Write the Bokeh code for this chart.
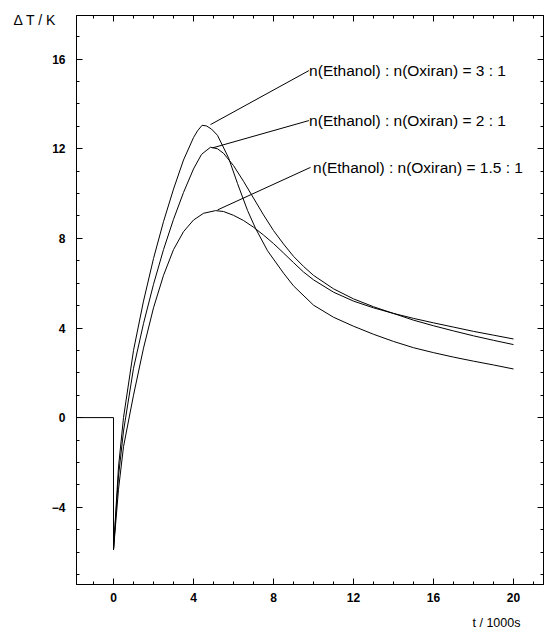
from bokeh.plotting import figure
from bokeh.models import LinearAxis, FixedTicker, Range1d, ColumnDataSource, Title
from bokeh.core.properties import value
from bokeh.embed import file_html
from bokeh.resources import INLINE

# ---- data (t in 1000 s, dT in K) ----
baseline_t = [-1.85, 0.0, 0.0]
baseline_v = [0.0, 0.0, -5.9]

t_31 = [0, 0.25, 0.5, 1.0, 1.5, 2.0, 2.5, 3.0, 3.5, 4.0, 4.2, 4.43, 4.65, 4.9, 5.2, 5.75, 6.2,
        6.7, 7.1, 7.7, 8.5, 9.0, 10, 11, 12, 13, 14, 15, 16, 17, 18, 19, 20]
v_31 = [-5.9, -2.2, 0.0, 3.0, 5.2, 7.1, 8.75, 10.2, 11.5, 12.5, 12.8, 13.05, 13.02, 12.88, 12.6,
        11.6, 10.45, 9.25, 8.45, 7.45, 6.45, 5.88, 5.02, 4.48, 4.08, 3.72, 3.4, 3.12, 2.9, 2.7,
        2.52, 2.35, 2.17]

t_21 = [0, 0.25, 0.5, 1.0, 1.5, 2.0, 2.5, 3.0, 3.5, 4.0, 4.4, 4.85, 5.2, 5.5, 6.0, 6.5, 7.0,
        7.5, 8.0, 8.5, 9.0, 9.5, 10, 11, 12, 13, 14, 15, 16, 17, 18, 19, 20]
v_21 = [-5.9, -2.6, -0.6, 2.2, 4.2, 5.95, 7.5, 8.85, 10.05, 11.1, 11.75, 12.07, 12.0, 11.8,
        11.25, 10.55, 9.8, 9.05, 8.35, 7.75, 7.2, 6.75, 6.35, 5.75, 5.3, 4.95, 4.65, 4.35, 4.1,
        3.87, 3.65, 3.45, 3.26]

t_15 = [0, 0.25, 0.5, 1.0, 1.5, 2.0, 2.5, 3.0, 3.5, 4.0, 4.5, 5.1, 5.5, 6.0, 6.5, 7.0, 7.5,
        8.0, 8.5, 9.0, 9.5, 10, 11, 12, 13, 14, 15, 16, 17, 18, 19, 20]
v_15 = [-5.9, -3.2, -1.3, 1.0, 3.1, 4.9, 6.35, 7.5, 8.3, 8.82, 9.12, 9.24, 9.2, 9.03, 8.8, 8.5,
        8.15, 7.77, 7.35, 6.92, 6.5, 6.15, 5.6, 5.2, 4.9, 4.65, 4.43, 4.23, 4.04, 3.85, 3.68, 3.51]

labels = ["n(Ethanol) : n(Oxiran) = 3 : 1",
          "n(Ethanol) : n(Oxiran) = 2 : 1",
          "n(Ethanol) : n(Oxiran) = 1.5 : 1"]
leader_x0 = [4.85, 4.95, 5.2]
leader_y0 = [13.08, 12.04, 9.27]
leader_x1 = [9.77, 9.77, 9.85]
leader_y1 = [15.49, 13.26, 11.17]
label_x = [9.78, 9.78, 9.98]

x_major = [0, 4, 8, 12, 16, 20]
x_minor = list(range(-1, 22))
y_major = [-4, 0, 4, 8, 12, 16]
y_minor = list(range(-7, 18))

y_title = "\u0394 T / K"
x_title = "t / 1000s"

FONT = "Liberation Sans"

p = figure(frame_width=467, frame_height=569,
           x_range=Range1d(-1.85, 21.5), y_range=Range1d(-7.45, 17.95),
           output_backend="svg", toolbar_location=None,
           min_border_left=76, min_border_top=15, min_border_right=1, min_border_bottom=49)
p.grid.visible = False
p.outline_line_color = "black"
p.background_fill_color = "white"
p.border_fill_color = "white"

xt = FixedTicker(ticks=x_major, minor_ticks=x_minor)
yt = FixedTicker(ticks=y_major, minor_ticks=y_minor)

def style(ax, labels_on):
    ax.axis_line_color = "black"
    ax.major_tick_line_color = "black"
    ax.minor_tick_line_color = "black"
    ax.major_tick_in = 6
    ax.major_tick_out = 0
    ax.minor_tick_in = 3
    ax.minor_tick_out = 0
    if labels_on:
        ax.major_label_text_font = FONT
        ax.major_label_text_font_size = "12px"
        ax.major_label_text_font_style = "bold"
        ax.major_label_text_color = "black"
    else:
        ax.major_label_text_color = None
        ax.major_label_standoff = 0

p.xaxis.ticker = xt
p.yaxis.ticker = yt
style(p.xaxis[0], True)
style(p.yaxis[0], True)
p.xaxis.major_label_standoff = 8
p.yaxis.major_label_standoff = 11

top = LinearAxis(ticker=xt)
style(top, False)
p.add_layout(top, "above")
right = LinearAxis(ticker=yt)
style(right, False)
p.add_layout(right, "right")

p.line(baseline_t, baseline_v, line_color="black", line_width=1)
for t, v in ((t_31, v_31), (t_21, v_21), (t_15, v_15)):
    p.line(t, v, line_color="black", line_width=1)

p.segment(x0=leader_x0, y0=leader_y0, x1=leader_x1, y1=leader_y1, line_color="black", line_width=1)
src = ColumnDataSource(dict(x=label_x, y=leader_y1, text=labels))
p.text(x="x", y="y", text="text", source=src, text_font=value(FONT), text_font_size="15.5px",
       text_align="left", text_baseline="middle", text_color="black")

p.add_layout(Title(text=y_title, align="left", offset=-63, standoff=-24,
                   text_font=FONT, text_font_size="14px", text_font_style="normal",
                   text_color="black"), "above")
p.add_layout(Title(text=x_title, align="left", offset=396, standoff=19,
                   text_font=FONT, text_font_size="12.5px", text_font_style="normal",
                   text_color="black"), "below")

open("out.html", "w").write(file_html(p, INLINE))
